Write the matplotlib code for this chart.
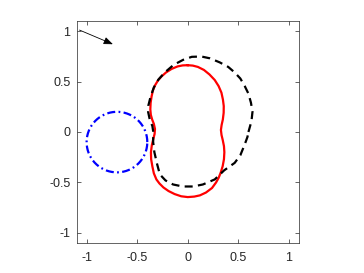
import matplotlib
matplotlib.use("Agg")
import matplotlib.pyplot as plt
import numpy as np

# Red solid closed curve (peanut)
red_x = [0.0, -0.05, -0.10, -0.16, -0.215, -0.26, -0.295, -0.325, -0.345, -0.358, -0.367,
         -0.37, -0.365, -0.352, -0.335, -0.324, -0.328, -0.342, -0.355, -0.364, -0.362,
         -0.35, -0.335, -0.31, -0.28, -0.24, -0.19, -0.13, -0.065, 0.0,
         0.065, 0.12, 0.18, 0.24, 0.28, 0.305, 0.325, 0.345, 0.358, 0.362, 0.358,
         0.346, 0.334, 0.328, 0.335, 0.347, 0.355, 0.356, 0.348, 0.333, 0.305,
         0.267, 0.215, 0.16, 0.10, 0.05, 0.0]
red_y = [0.662, 0.66, 0.65, 0.625, 0.59, 0.55, 0.51, 0.46, 0.41, 0.35, 0.29,
         0.224, 0.17, 0.124, 0.08, 0.03, -0.02, -0.075, -0.13, -0.2, -0.27,
         -0.34, -0.41, -0.47, -0.51, -0.55, -0.585, -0.615, -0.637, -0.645,
         -0.64, -0.628, -0.6, -0.555, -0.5, -0.455, -0.405, -0.34, -0.27, -0.2, -0.14,
         -0.08, -0.03, 0.02, 0.07, 0.124, 0.19, 0.257, 0.32, 0.39, 0.455,
         0.515, 0.57, 0.615, 0.645, 0.658, 0.662]

# Black dashed closed curve
blk_x = [0.60, 0.63, 0.64, 0.625, 0.60, 0.563, 0.52, 0.464, 0.40, 0.316, 0.22, 0.135,
         0.04, -0.046, -0.14, -0.227, -0.29, -0.336, -0.37, -0.39, -0.392, -0.375,
         -0.35, -0.342, -0.342, -0.33, -0.305, -0.276, -0.22, -0.145, -0.05, 0.052,
         0.15, 0.267, 0.36, 0.464, 0.52, 0.563, 0.59, 0.60]
blk_y = [0.0, 0.107, 0.2, 0.29, 0.38, 0.456, 0.53, 0.59, 0.645, 0.69, 0.73, 0.748,
         0.745, 0.715, 0.665, 0.59, 0.52, 0.44, 0.34, 0.26, 0.2, 0.12,
         0.06, 0.008, -0.1, -0.2, -0.31, -0.42, -0.48, -0.52, -0.54, -0.54,
         -0.52, -0.47, -0.38, -0.306, -0.23, -0.124, -0.05, 0.0]

# Blue dash-dot circle
blue_center = (-0.7, -0.1)
blue_radius = 0.3

# Arrow
arrow_start = (-1.07, 1.01)
arrow_end = (-0.74, 0.87)

ticks = [-1, -0.5, 0, 0.5, 1]
tick_labels = ["-1", "-0.5", "0", "0.5", "1"]

plt.rcParams['font.family'] = ['Liberation Sans', 'DejaVu Sans']
plt.rcParams['axes.unicode_minus'] = False

fig = plt.figure(figsize=(3.64, 2.73), dpi=100)
ax = fig.add_axes([76.5/364, 30/273, 222.5/364, 222/273])

ax.plot(red_x, red_y, color='red', lw=1.6, solid_joinstyle='round')
ax.plot(blk_x, blk_y, color='black', lw=1.6, linestyle=(0, (3.6, 2.4)))
t = np.linspace(0, 2 * np.pi, 200)
ax.plot(blue_center[0] + blue_radius * np.cos(t), blue_center[1] + blue_radius * np.sin(t),
        color='blue', lw=1.6, linestyle=(0, (3.6, 1.5, 0.8, 1.5)))

ax.annotate("", xy=arrow_end, xytext=arrow_start,
            arrowprops=dict(arrowstyle='-|>,head_length=0.55,head_width=0.22',
                            color='black', lw=0.6, shrinkA=0, shrinkB=0))

ax.set_xlim(-1.1, 1.1)
ax.set_ylim(-1.1, 1.1)
ax.set_xticks(ticks)
ax.set_xticklabels(tick_labels)
ax.set_yticks(ticks)
ax.set_yticklabels(tick_labels)
ax.tick_params(direction='in', length=3, width=0.5, top=True, right=True,
               colors='#262626', labelsize=9)
ax.tick_params(axis='x', pad=6.5)
ax.tick_params(axis='y', pad=4.5)
for s in ax.spines.values():
    s.set_color('#262626')
    s.set_linewidth(0.5)

fig.savefig("out.png", dpi=100)
